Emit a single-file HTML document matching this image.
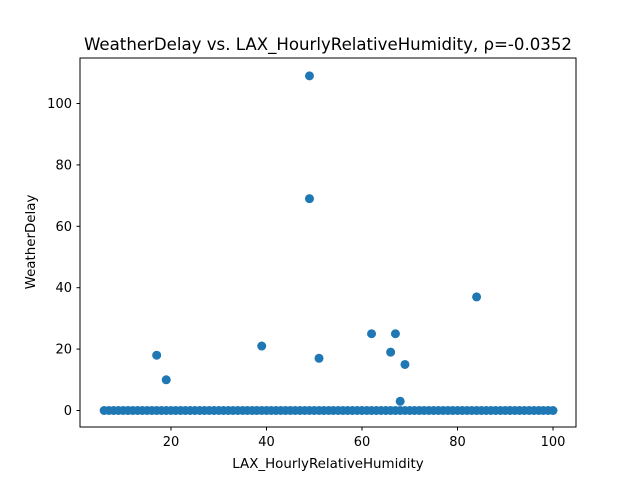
<!DOCTYPE html>
<html>
<head>
<meta charset="utf-8">
<style>
html,body{margin:0;padding:0;background:#fff;}
svg{display:block;font-family:"DejaVu Sans","Liberation Sans",sans-serif;}
</style>
</head>
<body>
<svg id="chart" width="640" height="480" viewBox="0 0 640 480">
  <rect x="0" y="0" width="640" height="480" fill="#fff"/>
  <text x="328" y="50" text-anchor="middle" font-size="16.6" fill="#000">WeatherDelay vs. LAX_HourlyRelativeHumidity, ρ=-0.0352</text>
  <g id="marks"></g>
  <g id="xticks"></g>
  <g id="yticks"></g>
  <rect x="80" y="58" width="496" height="369" fill="none" stroke="#000" stroke-width="1"/>
  <text x="328" y="468" text-anchor="middle" font-size="13.4" fill="#000">LAX_HourlyRelativeHumidity</text>
  <text x="35" y="242" text-anchor="middle" font-size="13.4" fill="#000" transform="rotate(-90 35 242)">WeatherDelay</text>
</svg>
<script>
const humidity = [6,7,8,9,10,11,12,13,14,15,16,17,18,19,20,21,22,23,24,25,26,27,28,29,30,31,32,33,34,35,36,37,38,39,40,41,42,43,44,45,46,47,48,49,50,51,52,53,54,55,56,57,58,59,60,61,62,63,64,65,66,67,68,69,70,71,72,73,74,75,76,77,78,79,80,81,82,83,84,85,86,87,88,89,90,91,92,93,94,95,96,97,98,99,100,
  17,19,39,49,49,51,62,66,67,69,68,84];
const delay = [0,0,0,0,0,0,0,0,0,0,0,0,0,0,0,0,0,0,0,0,0,0,0,0,0,0,0,0,0,0,0,0,0,0,0,0,0,0,0,0,0,0,0,0,0,0,0,0,0,0,0,0,0,0,0,0,0,0,0,0,0,0,0,0,0,0,0,0,0,0,0,0,0,0,0,0,0,0,0,0,0,0,0,0,0,0,0,0,0,0,0,0,0,0,0,
  18,10,21,109,69,17,25,19,25,15,3,37];
const xTicks = [20,40,60,80,100];
const yTicks = [0,20,40,60,80,100];

const NS = "http://www.w3.org/2000/svg";
function xScale(v){ return 75.5 + v * 4.775; }
function yScale(v){ return 410.5 - v * 3.07; }

const marks = document.getElementById('marks');
for (let i = 0; i < humidity.length; i++) {
  const c = document.createElementNS(NS, 'circle');
  c.setAttribute('cx', xScale(humidity[i]));
  c.setAttribute('cy', yScale(delay[i]));
  c.setAttribute('r', 4.5);
  c.setAttribute('fill', '#1f77b4');
  
  
  marks.appendChild(c);
}

const xg = document.getElementById('xticks');
xTicks.forEach(t => {
  const x = xScale(t);
  const l = document.createElementNS(NS, 'line');
  l.setAttribute('x1', x); l.setAttribute('x2', x);
  l.setAttribute('y1', 427); l.setAttribute('y2', 430.5);
  l.setAttribute('stroke', '#000');
  
  
  xg.appendChild(l);
  const tx = document.createElementNS(NS, 'text');
  tx.setAttribute('x', x); tx.setAttribute('y', 446);
  tx.setAttribute('text-anchor', 'middle');
  tx.setAttribute('font-size', '13');
  tx.textContent = t;
  
  
  xg.appendChild(tx);
});

const yg = document.getElementById('yticks');
yTicks.forEach(t => {
  const y = yScale(t);
  const l = document.createElementNS(NS, 'line');
  l.setAttribute('x1', 76.5); l.setAttribute('x2', 80);
  l.setAttribute('y1', y); l.setAttribute('y2', y);
  l.setAttribute('stroke', '#000');
  
  
  yg.appendChild(l);
  const tx = document.createElementNS(NS, 'text');
  tx.setAttribute('x', 72); tx.setAttribute('y', y + 4.5);
  tx.setAttribute('text-anchor', 'end');
  tx.setAttribute('font-size', '13');
  tx.textContent = t;
  
  
  yg.appendChild(tx);
});
</script>
</body>
</html>
